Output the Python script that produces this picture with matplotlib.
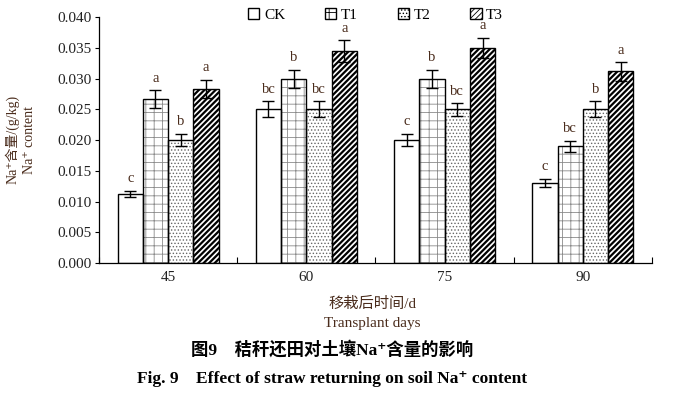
import numpy as np
import matplotlib
matplotlib.use('Agg')
import matplotlib.pyplot as plt
from matplotlib.patches import Patch

plt.rcParams['font.family'] = ['Liberation Serif', 'Noto Sans CJK SC', 'DejaVu Sans']
plt.rcParams['hatch.linewidth'] = 0.6

days = ['45', '60', '75', '90']
groups = ['CK', 'T1', 'T2', 'T3']
means = {
    'CK': [0.0113, 0.0250, 0.0200, 0.0130],
    'T1': [0.0267, 0.0300, 0.0300, 0.0190],
    'T2': [0.0200, 0.0250, 0.0250, 0.0250],
    'T3': [0.0283, 0.0345, 0.0350, 0.0312],
}
errs = {
    'CK': [0.0005, 0.0013, 0.0010, 0.0007],
    'T1': [0.0014, 0.0015, 0.0015, 0.0009],
    'T2': [0.0010, 0.0013, 0.0010, 0.0013],
    'T3': [0.0015, 0.0018, 0.0017, 0.0015],
}
letters = {
    'CK': ['c', 'bc', 'c', 'c'],
    'T1': ['a', 'b', 'b', 'bc'],
    'T2': ['b', 'bc', 'bc', 'b'],
    'T3': ['a', 'a', 'a', 'a'],
}
hatches = {'CK': '', 'T1': '++', 'T2': '.....', 'T3': '//////'}
hatch_cols = {'CK': 'black', 'T1': '#8a8a8a', 'T2': '#666666', 'T3': 'black'}

brown = '#4a2c1c'

fig = plt.figure(figsize=(6.83, 3.94), dpi=100)
ax = fig.add_axes([0.145, 0.3325, 0.8095, 0.6235])

x = np.arange(len(days))
w = 0.183
for i, g in enumerate(groups):
    pos = x + (i - 1.5) * w
    # hatch layer, then a plain black outline on top
    b = ax.bar(pos, means[g], w, color='white', edgecolor=hatch_cols[g],
               hatch=hatches[g], linewidth=0, zorder=2)
    if g == 'T3':
        for p in b:
            if hasattr(p, 'set_hatch_linewidth'):
                p.set_hatch_linewidth(1.6)
    ax.bar(pos, means[g], w, fill=False, edgecolor='black', linewidth=1.0, zorder=3)
    ax.errorbar(pos, means[g], yerr=errs[g], fmt='none', ecolor='black',
                elinewidth=1.0, capsize=4, capthick=1.0, zorder=4)
    for xp, m, e, lt in zip(pos, means[g], errs[g], letters[g]):
        ax.annotate(lt, (xp, m + e), xytext=(0, 4), textcoords='offset points',
                    ha='center', va='bottom', fontsize=10.5, color=brown)

ax.set_xlim(-0.5, 3.5)
ax.set_ylim(0, 0.040)
ax.set_yticks(np.arange(0, 0.0401, 0.005))
ax.set_yticklabels(['%.3f' % v for v in np.arange(0, 0.0401, 0.005)])
ax.set_xticks(x)
ax.set_xticklabels(days)
ax.set_xticks(np.arange(-0.5, 3.6, 1), minor=True)
ax.tick_params(axis='x', which='major', length=0, pad=6, labelsize=11, labelcolor='#222222')
ax.tick_params(axis='x', which='minor', direction='in', length=4, width=0.8)
ax.tick_params(axis='y', direction='out', length=3, width=0.8, labelsize=11,
               labelcolor='#222222', pad=2)
for s in ['top', 'right']:
    ax.spines[s].set_visible(False)
for s in ['left', 'bottom']:
    ax.spines[s].set_linewidth(0.9)

handles = [Patch(facecolor='white', edgecolor='black', hatch=hatches[g], label=g)
           for g in groups]
ax.legend(handles=handles, ncol=4, frameon=False, loc='center',
          bbox_to_anchor=(0.5, 1.01), fontsize=11, handlelength=0.75,
          handleheight=0.75, handletextpad=0.3, columnspacing=2.6)

fig.text(0.018, 0.645, 'Na⁺含量/(g/kg)', rotation=90, ha='center', va='center',
         fontsize=10, color=brown)
fig.text(0.043, 0.645, 'Na⁺ content', rotation=90, ha='center', va='center',
         fontsize=10, color=brown)

fig.text(0.545, 0.228, '移栽后时间/d', ha='center', va='center', fontsize=11, color=brown)
fig.text(0.545, 0.18, 'Transplant days', ha='center', va='center', fontsize=11, color=brown)

fig.text(0.486, 0.112, '图9　秸秆还田对土壤Na⁺含量的影响', ha='center', va='center',
         fontsize=12.5, fontweight='bold', color='black')
fig.text(0.486, 0.038, 'Fig. 9　Effect of straw returning on soil Na⁺ content',
         ha='center', va='center', fontsize=12.5, fontweight='bold', color='black')

fig.savefig('out.png', dpi=100)
